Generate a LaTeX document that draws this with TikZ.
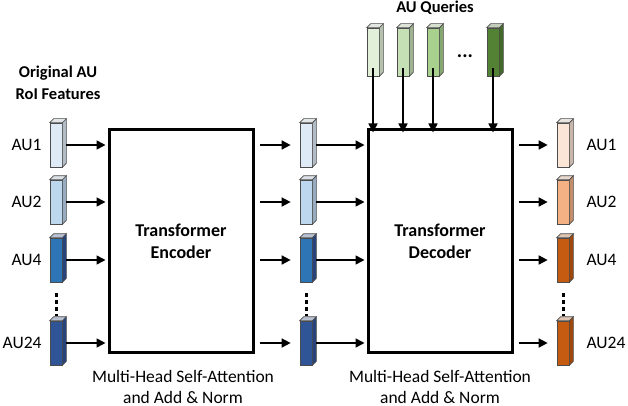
\documentclass[tikz,border=0pt]{standalone}
\usepackage{fontspec}
\setmainfont{Carlito}
\usetikzlibrary{arrows.meta}
\definecolor{b1}{HTML}{DEEBF7}
\definecolor{b2}{HTML}{BDD7EE}
\definecolor{b3}{HTML}{2E75B6}
\definecolor{b4}{HTML}{2F5597}
\definecolor{o1}{HTML}{FBE5D6}
\definecolor{o2}{HTML}{F4B183}
\definecolor{o3}{HTML}{C55A11}
\definecolor{o4}{HTML}{C55A11}
\definecolor{g1}{HTML}{E2F0D9}
\definecolor{g2}{HTML}{C5E0B4}
\definecolor{g3}{HTML}{A9D18E}
\definecolor{g4}{HTML}{548235}
\tikzset{
  cube/.style={draw=black!70, line width=0.7pt, minimum width=12pt, minimum height=44pt, inner sep=0pt},
  qcube/.style={cube, minimum height=48pt},
  box/.style={draw, line width=3pt, minimum width=144pt, minimum height=222pt},
  arr/.style={-{Triangle[length=9pt,width=9pt]}, line width=1.6pt},
  lab/.style={font=\fontsize{17.5}{21}\selectfont},
  blab/.style={font=\bfseries\fontsize{18}{22}\selectfont},
  slab/.style={font=\bfseries\fontsize{16.5}{22}\selectfont},
}
% side faces of a cube node: #1 name, #2 colour
\newcommand\cubefaces[2]{%
  \draw[black!70, line width=0.7pt, fill=#2!80!black] (#1.north east) -- ++(4,-4) -- ([shift={(4,-4)}]#1.south east) -- (#1.south east) -- cycle;
  \draw[black!70, line width=0.7pt, fill=#2!60!gray!40] (#1.north west) -- ++(4,-4) -- ([shift={(4,-4)}]#1.north east) -- (#1.north east) -- cycle;
}
\begin{document}
\begin{tikzpicture}[x=1pt,y=-1pt]
\useasboundingbox (0,0) rectangle (628,406);

\node[box] (enc) at (181,241) {};
\node[blab, align=center] at (enc) {Transformer\\Encoder};
\node[box] (dec) at (440,241) {};
\node[blab, align=center] at (dec) {Transformer\\Decoder};

% left, middle, right columns
\foreach \c/\x/\p in {l/56/b, m/306/b, r/563/o}{
  \node[cube, fill=\p1] (\c1) at (\x,145) {};
  \node[cube, fill=\p2] (\c2) at (\x,202) {};
  \node[cube, fill=\p3] (\c4) at (\x,260) {};
  \node[cube, fill=\p4] (\c24) at (\x,343) {};
  \cubefaces{\c1}{\p1}\cubefaces{\c2}{\p2}\cubefaces{\c4}{\p4}\cubefaces{\c24}{\p4}
  \draw[line width=3pt, dash pattern=on 3.5pt off 3.5pt] (\x,293) -- (\x,316);
}

\foreach \i/\y in {1/145,2/202,4/260,24/343}{
  \node[lab, anchor=east] at (45,\y) {AU\i};
  \node[lab, anchor=west] at (583,\y) {AU\i};
  \coordinate (eL\i) at (enc.west |- 0,\y);
  \coordinate (eR\i) at (enc.east |- 0,\y);
  \coordinate (dL\i) at (dec.west |- 0,\y);
  \coordinate (dR\i) at (dec.east |- 0,\y);
  \draw[arr] (l\i) ++(10,0) -- ([xshift=-2pt]eL\i);
  \draw[arr] (eR\i) ++(5,0) -- ([xshift=-9pt]m\i.west);
  \draw[arr] (m\i) ++(10,0) -- ([xshift=-2pt]dL\i);
  \draw[arr] (dR\i) ++(5,0) -- ([xshift=-9pt]r\i.west);
}

% queries
\node[slab] at (435,8) {AU Queries};
\foreach \n/\x in {1/373,2/403,3/433,4/493}{
  \node[qcube, fill=g\n] (q\n) at (\x,52) {};
  \cubefaces{q\n}{g\n}
  \coordinate (qd\n) at (q\n.south |- dec.north);
  \draw[arr] ([yshift=8pt]q\n.south) -- ([yshift=-4pt]qd\n);
}
\node[font=\bfseries\fontsize{20}{20}\selectfont] at (465,56) {...};

\node[slab, align=center] at (58,83) {Original AU\\RoI Features};
\node[lab, align=center] at (183,387) {Multi-Head Self-Attention\\and Add \& Norm};
\node[lab, align=center] at (440,387) {Multi-Head Self-Attention\\and Add \& Norm};
\end{tikzpicture}
\end{document}
